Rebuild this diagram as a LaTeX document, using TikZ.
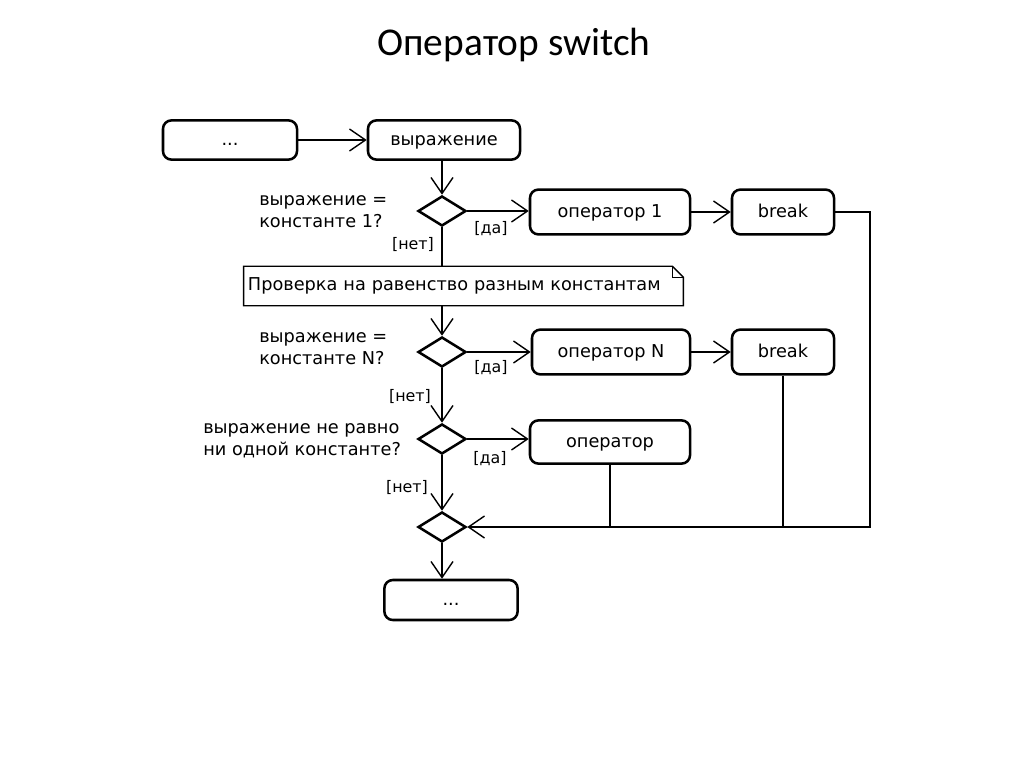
\documentclass[tikz,border=0pt]{standalone}
\usepackage{fontspec}
\setmainfont{DejaVu Sans}
\newfontfamily\titlefont{Carlito}
\usetikzlibrary{shapes.geometric, arrows.meta, calc}

\tikzset{
  block/.style={draw, line width=1.8pt, rounded corners=6pt, inner sep=0pt,
    text height=9pt, text depth=0.7pt, font=\fontsize{12.6}{15}\selectfont},
  cond/.style={draw, diamond, line width=1.8pt, minimum width=1.2cm, minimum height=0.75cm, inner sep=0pt},
  flow/.style={line width=1pt, -{Straight Barb[length=0.4cm, width=0.55cm, line width=1pt]}},
  link/.style={line width=1pt},
  guard/.style={font=\fontsize{11.3}{13}\selectfont, inner sep=0pt},
  question/.style={font=\fontsize{12.6}{15.5}\selectfont, align=left, anchor=west, inner sep=0pt},
}

\begin{document}
\begin{tikzpicture}[x=0.025cm, y=-0.025cm]
  \useasboundingbox (0,0) rectangle (1024,767);

  % Title
  \node[font=\titlefont\fontsize{28}{33}\selectfont] (title) at (514,45) {Оператор switch};

  % Actions
  \node[block, minimum width=3.35cm, minimum height=0.98cm] (start) at (230,140) {...};
  \node[block, minimum width=3.8cm, minimum height=0.98cm] (expr) at (444,140) {выражение};
  \node[block, minimum width=4cm, minimum height=1.12cm] (op1) at (610,212) {оператор 1};
  \node[block, minimum width=2.55cm, minimum height=1.12cm] (brk1) at (783,212) {break};
  \node[block, minimum width=3.95cm, minimum height=1.12cm] (opN) at (611,352) {оператор N};
  \node[block, minimum width=2.55cm, minimum height=1.12cm] (brk2) at (783,352) {break};
  \node[block, minimum width=4cm, minimum height=1.08cm] (opr) at (610,442) {оператор};
  \node[block, minimum width=3.33cm, minimum height=1cm] (stop) at (451,600) {...};

  % Decisions
  \node[cond] (d1) at (442,211) {};
  \node[cond] (d2) at (442,352) {};
  \node[cond] (d3) at (442,439) {};
  \node[cond] (merge) at (442,527) {};

  % Note with folded corner
  \node[text width=10.775cm, inner xsep=0.1cm, minimum height=0.975cm, align=left,
        font=\fontsize{12.6}{15}\selectfont] (note) at (463.5,286) {Проверка на равенство разным константам};
  \draw[link] (note.north west) -- ($(note.north east)+(-11,0)$) -- ($(note.north east)+(0,11)$)
    -- (note.south east) -- (note.south west) -- cycle;
  \draw[link] ($(note.north east)+(-11,0)$) -- ($(note.north east)+(-11,11)$) -- ($(note.north east)+(0,11)$);

  % Questions
  \node[question] (q1) at (259,212) {выражение =\\константе 1?};
  \node[question] (q2) at (259,349) {выражение =\\константе N?};
  \node[question] (q3) at (203,441) {выражение не равно\\ни одной константе?};

  % Guards
  \node[guard] (y1) at (491,229) {[да]};
  \node[guard] (n1) at (413,245) {[нет]};
  \node[guard] (y2) at (491,368) {[да]};
  \node[guard] (n2) at (410,397) {[нет]};
  \node[guard] (y3) at (490,459) {[да]};
  \node[guard] (n3) at (407,488) {[нет]};

  % Flow
  \draw[flow] (start) -- (expr);
  \draw[flow] (d1 |- expr.south) -- (d1.north);
  \draw[flow] (d1.east) -- (d1.east -| op1.west);
  \draw[flow] (op1) -- (brk1);
  \draw[link] (d1.south) -- (d1.south |- note.north);
  \draw[flow] (d2 |- note.south) -- (d2.north);
  \draw[flow] (d2.east) -- (d2.east -| opN.west);
  \draw[flow] (opN) -- (brk2);
  \draw[flow] (d2.south) -- (d3.north);
  \draw[flow] (d3.east) -- (d3.east -| opr.west);
  \draw[flow] (d3.south) -- (merge.north);
  \draw[flow] (merge.south) -- (merge.south |- stop.north);

  % Exits to merge
  \coordinate (rt) at (870,527);
  \draw[flow] (brk1.east) -| (rt) -- (merge.east);
  \draw[link] (brk2.south) -- (brk2.south |- merge.east);
  \draw[link] (opr.south) -- (opr.south |- merge.east);
\end{tikzpicture}
\end{document}
